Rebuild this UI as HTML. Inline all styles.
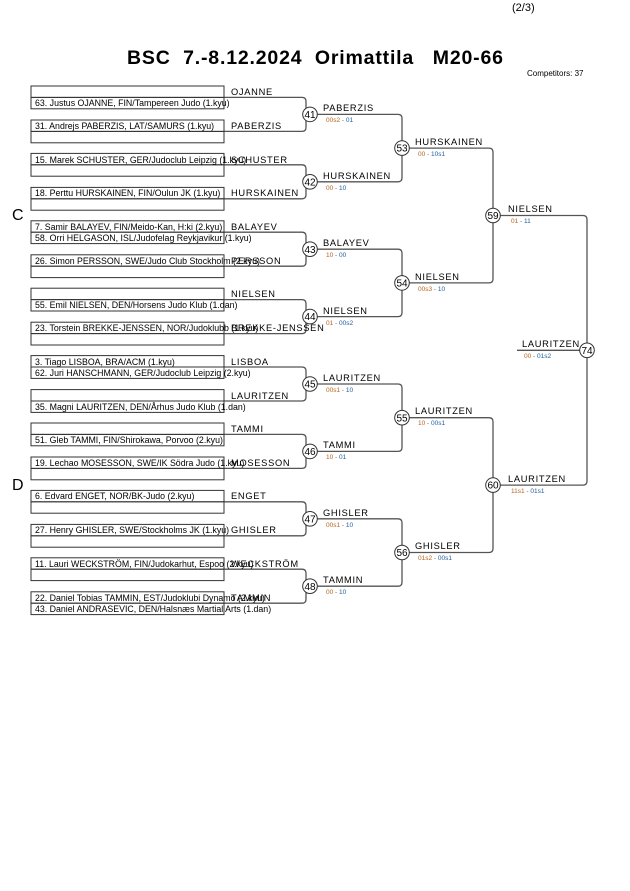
<!DOCTYPE html>
<html><head><meta charset="utf-8"><style>
html,body{margin:0;padding:0;background:#fff;}
svg{display:block;font-family:"Liberation Sans",sans-serif;}
.n{font-size:8.8px;fill:#000;}
.l{font-size:9.3px;fill:#000;letter-spacing:0.7px;}
.s{font-size:6.5px;}
.a{fill:#b5651d}.b{fill:#1f5fa0}.g{fill:#666}
.c{font-size:10px;fill:#000;text-anchor:middle;}
rect{fill:none;stroke:#333;stroke-width:1;}
path,line{fill:none;stroke:#555;stroke-width:1.3;}
circle{fill:#fff;stroke:#333;stroke-width:1;}
</style></head><body>
<svg width="630" height="891" viewBox="0 0 630 891">
<text x="512" y="11" style="font-size:11px">(2/3)</text>
<text x="127" y="64" textLength="376" lengthAdjust="spacing" style="font-size:19.5px;font-weight:bold;white-space:pre" xml:space="preserve">BSC  7.-8.12.2024  Orimattila   M20-66</text>
<text x="527" y="76" style="font-size:8px">Competitors: 37</text>
<text x="12" y="220" style="font-size:16px">C</text>
<text x="12" y="490" style="font-size:16px">D</text>

<path d="M224,97.4 H302 Q306,97.4 306,101.4 V127.4 Q306,131.4 302,131.4 H224"/>
<path d="M224,164.8 H302 Q306,164.8 306,168.8 V194.8 Q306,198.8 302,198.8 H224"/>
<path d="M224,232.2 H302 Q306,232.2 306,236.2 V262.2 Q306,266.2 302,266.2 H224"/>
<path d="M224,299.6 H302 Q306,299.6 306,303.6 V329.6 Q306,333.6 302,333.6 H224"/>
<path d="M224,367 H302 Q306,367 306,371 V397 Q306,401 302,401 H224"/>
<path d="M224,434.4 H302 Q306,434.4 306,438.4 V464.4 Q306,468.4 302,468.4 H224"/>
<path d="M224,501.8 H302 Q306,501.8 306,505.8 V531.8 Q306,535.8 302,535.8 H224"/>
<path d="M224,569.2 H302 Q306,569.2 306,573.2 V599.2 Q306,603.2 302,603.2 H224"/>
<path d="M317,114.4 H398 Q402,114.4 402,118.4 V177.8 Q402,181.8 398,181.8 H317"/>
<path d="M317,249.2 H398 Q402,249.2 402,253.2 V312.6 Q402,316.6 398,316.6 H317"/>
<path d="M317,384 H398 Q402,384 402,388 V447.4 Q402,451.4 398,451.4 H317"/>
<path d="M317,518.8 H398 Q402,518.8 402,522.8 V582.2 Q402,586.2 398,586.2 H317"/>
<path d="M409,148.1 H489 Q493,148.1 493,152.1 V278.9 Q493,282.9 489,282.9 H409"/>
<path d="M409,417.7 H489 Q493,417.7 493,421.7 V548.5 Q493,552.5 489,552.5 H409"/>
<path d="M500,215.5 H583 Q587,215.5 587,219.5 V481.1 Q587,485.1 583,485.1 H500"/>
<line x1="517" y1="350.3" x2="580" y2="350.3"/>

<g>
<rect x="31" y="86" width="193" height="11.4"/><rect x="31" y="97.4" width="193" height="11.4"/><rect x="31" y="120" width="193" height="11.4"/><rect x="31" y="131.4" width="193" height="11.4"/>
<rect x="31" y="153.4" width="193" height="11.4"/><rect x="31" y="164.8" width="193" height="11.4"/><rect x="31" y="187.4" width="193" height="11.4"/><rect x="31" y="198.8" width="193" height="11.4"/>
<rect x="31" y="220.8" width="193" height="11.4"/><rect x="31" y="232.2" width="193" height="11.4"/><rect x="31" y="254.8" width="193" height="11.4"/><rect x="31" y="266.2" width="193" height="11.4"/>
<rect x="31" y="288.2" width="193" height="11.4"/><rect x="31" y="299.6" width="193" height="11.4"/><rect x="31" y="322.2" width="193" height="11.4"/><rect x="31" y="333.6" width="193" height="11.4"/>
<rect x="31" y="355.6" width="193" height="11.4"/><rect x="31" y="367" width="193" height="11.4"/><rect x="31" y="389.6" width="193" height="11.4"/><rect x="31" y="401" width="193" height="11.4"/>
<rect x="31" y="423" width="193" height="11.4"/><rect x="31" y="434.4" width="193" height="11.4"/><rect x="31" y="457" width="193" height="11.4"/><rect x="31" y="468.4" width="193" height="11.4"/>
<rect x="31" y="490.4" width="193" height="11.4"/><rect x="31" y="501.8" width="193" height="11.4"/><rect x="31" y="524.4" width="193" height="11.4"/><rect x="31" y="535.8" width="193" height="11.4"/>
<rect x="31" y="557.8" width="193" height="11.4"/><rect x="31" y="569.2" width="193" height="11.4"/><rect x="31" y="591.8" width="193" height="11.4"/><rect x="31" y="603.2" width="193" height="11.4"/>
</g>

<text class="n" x="35" y="106">63. Justus OJANNE, FIN/Tampereen Judo (1.kyu)</text>
<text class="n" x="35" y="129">31. Andrejs PABERZIS, LAT/SAMURS (1.kyu)</text>
<text class="n" x="35" y="163">15. Marek SCHUSTER, GER/Judoclub Leipzig (1.kyu)</text>
<text class="n" x="35" y="196">18. Perttu HURSKAINEN, FIN/Oulun JK (1.kyu)</text>
<text class="n" x="35" y="230">7. Samir BALAYEV, FIN/Meido-Kan, H:ki (2.kyu)</text>
<text class="n" x="35" y="241">58. Orri HELGASON, ISL/Judofelag Reykjavikur (1.kyu)</text>
<text class="n" x="35" y="264">26. Simon PERSSON, SWE/Judo Club Stockholm (2.kyu)</text>
<text class="n" x="35" y="308">55. Emil NIELSEN, DEN/Horsens Judo Klub (1.dan)</text>
<text class="n" x="35" y="331">23. Torstein BREKKE-JENSSEN, NOR/Judoklubb (1.kyu)</text>
<text class="n" x="35" y="365">3. Tiago LISBOA, BRA/ACM (1.kyu)</text>
<text class="n" x="35" y="376">62. Juri HANSCHMANN, GER/Judoclub Leipzig (2.kyu)</text>
<text class="n" x="35" y="410">35. Magni LAURITZEN, DEN/Århus Judo Klub (1.dan)</text>
<text class="n" x="35" y="443">51. Gleb TAMMI, FIN/Shirokawa, Porvoo (2.kyu)</text>
<text class="n" x="35" y="466">19. Lechao MOSESSON, SWE/IK Södra Judo (1.kyu)</text>
<text class="n" x="35" y="499">6. Edvard ENGET, NOR/BK-Judo (2.kyu)</text>
<text class="n" x="35" y="533">27. Henry GHISLER, SWE/Stockholms JK (1.kyu)</text>
<text class="n" x="35" y="567">11. Lauri WECKSTRÖM, FIN/Judokarhut, Espoo (2.kyu)</text>
<text class="n" x="35" y="601">22. Daniel Tobias TAMMIN, EST/Judoklubi Dynamo (2.kyu)</text>
<text class="n" x="35" y="612">43. Daniel ANDRASEVIC, DEN/Halsnæs Martial Arts (1.dan)</text>

<text class="l" x="231" y="95">OJANNE</text>
<text class="l" x="231" y="129">PABERZIS</text>
<text class="l" x="231" y="163">SCHUSTER</text>
<text class="l" x="231" y="196">HURSKAINEN</text>
<text class="l" x="231" y="230">BALAYEV</text>
<text class="l" x="231" y="264">PERSSON</text>
<text class="l" x="231" y="297">NIELSEN</text>
<text class="l" x="231" y="331">BREKKE-JENSSEN</text>
<text class="l" x="231" y="365">LISBOA</text>
<text class="l" x="231" y="399">LAURITZEN</text>
<text class="l" x="231" y="432">TAMMI</text>
<text class="l" x="231" y="466">MOSESSON</text>
<text class="l" x="231" y="499">ENGET</text>
<text class="l" x="231" y="533">GHISLER</text>
<text class="l" x="231" y="567">WECKSTRÖM</text>
<text class="l" x="231" y="601">TAMMIN</text>

<text class="l" x="323" y="111">PABERZIS</text><text class="s" x="326" y="122"><tspan class="a">00s2</tspan><tspan class="g"> - </tspan><tspan class="b">01</tspan></text>
<text class="l" x="323" y="179">HURSKAINEN</text><text class="s" x="326" y="190"><tspan class="a">00</tspan><tspan class="g"> - </tspan><tspan class="b">10</tspan></text>
<text class="l" x="323" y="246">BALAYEV</text><text class="s" x="326" y="257"><tspan class="a">10</tspan><tspan class="g"> - </tspan><tspan class="b">00</tspan></text>
<text class="l" x="323" y="314">NIELSEN</text><text class="s" x="326" y="325"><tspan class="a">01</tspan><tspan class="g"> - </tspan><tspan class="b">00s2</tspan></text>
<text class="l" x="323" y="381">LAURITZEN</text><text class="s" x="326" y="392"><tspan class="a">00s1</tspan><tspan class="g"> - </tspan><tspan class="b">10</tspan></text>
<text class="l" x="323" y="448">TAMMI</text><text class="s" x="326" y="459"><tspan class="a">10</tspan><tspan class="g"> - </tspan><tspan class="b">01</tspan></text>
<text class="l" x="323" y="516">GHISLER</text><text class="s" x="326" y="527"><tspan class="a">00s1</tspan><tspan class="g"> - </tspan><tspan class="b">10</tspan></text>
<text class="l" x="323" y="583">TAMMIN</text><text class="s" x="326" y="594"><tspan class="a">00</tspan><tspan class="g"> - </tspan><tspan class="b">10</tspan></text>

<text class="l" x="415" y="145">HURSKAINEN</text><text class="s" x="418" y="156"><tspan class="a">00</tspan><tspan class="g"> - </tspan><tspan class="b">10s1</tspan></text>
<text class="l" x="415" y="280">NIELSEN</text><text class="s" x="418" y="291"><tspan class="a">00s3</tspan><tspan class="g"> - </tspan><tspan class="b">10</tspan></text>
<text class="l" x="415" y="414">LAURITZEN</text><text class="s" x="418" y="425"><tspan class="a">10</tspan><tspan class="g"> - </tspan><tspan class="b">00s1</tspan></text>
<text class="l" x="415" y="549">GHISLER</text><text class="s" x="418" y="560"><tspan class="a">01s2</tspan><tspan class="g"> - </tspan><tspan class="b">00s1</tspan></text>

<text class="l" x="508" y="212">NIELSEN</text><text class="s" x="511" y="223"><tspan class="a">01</tspan><tspan class="g"> - </tspan><tspan class="b">11</tspan></text>
<text class="l" x="508" y="482">LAURITZEN</text><text class="s" x="511" y="493"><tspan class="a">11s1</tspan><tspan class="g"> - </tspan><tspan class="b">01s1</tspan></text>
<text class="l" x="522" y="347">LAURITZEN</text><text class="s" x="524" y="358"><tspan class="a">00</tspan><tspan class="g"> - </tspan><tspan class="b">01s2</tspan></text>

<circle cx="310" cy="114.4" r="7.3"/><text class="c" x="310" y="118">41</text>
<circle cx="310" cy="181.8" r="7.3"/><text class="c" x="310" y="185.4">42</text>
<circle cx="310" cy="249.2" r="7.3"/><text class="c" x="310" y="252.8">43</text>
<circle cx="310" cy="316.6" r="7.3"/><text class="c" x="310" y="320.2">44</text>
<circle cx="310" cy="384" r="7.3"/><text class="c" x="310" y="387.6">45</text>
<circle cx="310" cy="451.4" r="7.3"/><text class="c" x="310" y="455">46</text>
<circle cx="310" cy="518.8" r="7.3"/><text class="c" x="310" y="522.4">47</text>
<circle cx="310" cy="586.2" r="7.3"/><text class="c" x="310" y="589.8">48</text>
<circle cx="402" cy="148.1" r="7.3"/><text class="c" x="402" y="151.7">53</text>
<circle cx="402" cy="282.9" r="7.3"/><text class="c" x="402" y="286.5">54</text>
<circle cx="402" cy="417.7" r="7.3"/><text class="c" x="402" y="421.3">55</text>
<circle cx="402" cy="552.5" r="7.3"/><text class="c" x="402" y="556.1">56</text>
<circle cx="493" cy="215.5" r="7.3"/><text class="c" x="493" y="219.1">59</text>
<circle cx="493" cy="485.1" r="7.3"/><text class="c" x="493" y="488.7">60</text>
<circle cx="587" cy="350.3" r="7.3"/><text class="c" x="587" y="353.9">74</text>
</svg>
</body></html>
